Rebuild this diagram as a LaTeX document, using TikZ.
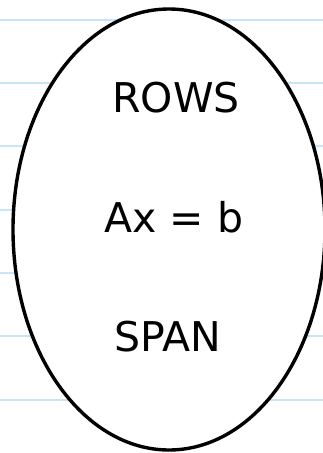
\documentclass[tikz,border=0pt]{standalone}
\usepackage{fontspec}
\setmainfont{DejaVu Sans}
\definecolor{ruled}{RGB}{200,228,248}
\tikzset{
  rule/.style={draw=ruled, line width=1.6pt},
  lbl/.style={font=\fontsize{41}{45}\selectfont, inner sep=0pt, anchor=center}
}
\begin{document}
\begin{tikzpicture}[x=1pt,y=-1pt]
\useasboundingbox (0,0) rectangle (323,453);
\fill[white] (0,0) rectangle (323,453);
\foreach \yy in {20,83,146,210,273,336,400}
  \draw[rule] (0,\yy) -- (323,\yy);
\filldraw[fill=white, draw=black, line width=3.4pt] (169,229.5) ellipse [x radius=156, y radius=220.5];
\node[lbl] (rows) at (176,98) {ROWS};
\node[lbl] (axb) at (174,217) {Ax = b};
\node[lbl] (span) at (168,337) {SPAN};
\end{tikzpicture}
\end{document}
